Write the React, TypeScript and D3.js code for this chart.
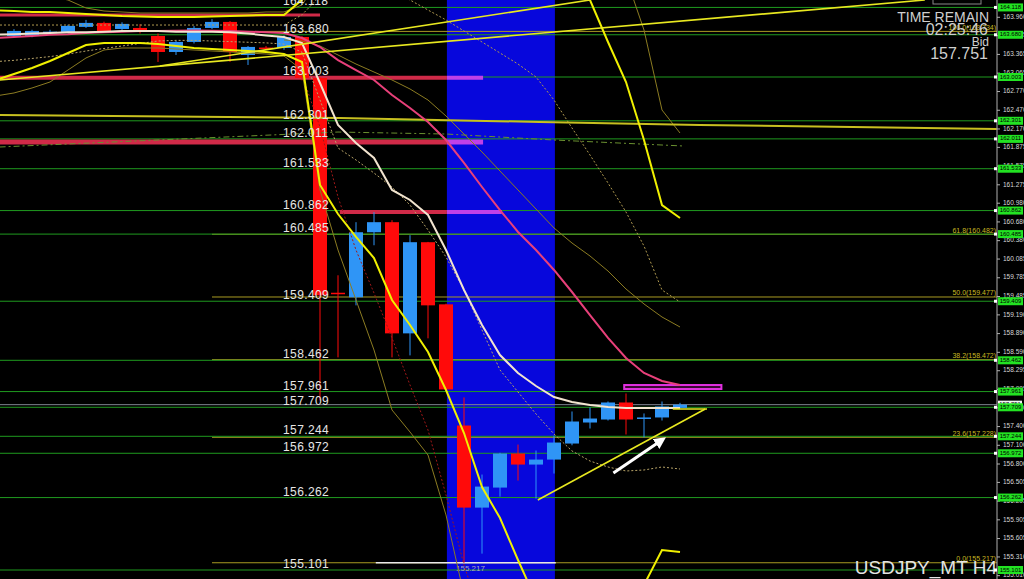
import * as d3 from "d3";

// ---- candle data (H4, USDJPY) ----
const candleOpen = [163.661, 163.661, 163.72, 163.725, 163.806, 163.87, 163.773, 163.789, 163.661, 163.404, 163.565, 163.789, 163.886, 163.356, 163.475, 163.468, 163.645, 162.987, 159.545, 159.472, 160.515, 160.676, 158.894, 160.355, 159.359, 157.417, 156.101, 156.422, 156.968, 156.791, 156.871, 157.128, 157.465, 157.513, 157.786, 157.529, 157.546, 157.70];
const candleHigh = [163.77, 163.76, 163.76, 163.84, 163.918, 163.89, 163.88, 163.85, 163.70, 163.58, 163.82, 163.93, 163.90, 163.50, 163.50, 163.67, 163.66, 163.00, 159.825, 160.676, 160.836, 160.708, 160.467, 160.36, 159.37, 157.867, 156.631, 156.98, 157.112, 157.016, 157.256, 157.642, 157.706, 157.802, 157.931, 157.61, 157.802, 157.78];
const candleLow = [163.64, 163.64, 163.69, 163.70, 163.79, 163.72, 163.75, 163.70, 163.244, 163.356, 163.54, 163.77, 163.244, 163.196, 163.44, 163.44, 162.95, 157.818, 158.509, 159.343, 160.306, 158.509, 158.541, 158.814, 157.99, 155.217, 155.363, 156.277, 156.534, 156.245, 156.647, 157.10, 157.369, 157.497, 157.273, 157.225, 157.497, 157.69];
const candleClose = [163.741, 163.741, 163.73, 163.822, 163.87, 163.741, 163.854, 163.725, 163.404, 163.565, 163.789, 163.886, 163.404, 163.485, 163.468, 163.645, 162.987, 159.504, 159.536, 160.515, 160.676, 158.894, 160.355, 159.343, 157.995, 156.101, 156.438, 156.968, 156.791, 156.871, 157.144, 157.481, 157.529, 157.786, 157.513, 157.546, 157.722, 157.751];

// ---- indicators (first value sits one bar left of the first candle) ----
const bandStart = -1;
const bbUpper = [164.07, 164.061, 164.045, 164.045, 164.029, 164.013, 163.997, 163.981, 163.973, 163.965, 163.965, 163.965, 163.973, 163.981, 163.989, 163.997, 163.997, 164.24, 164.9, 165.3, 165.6, 165.8, 165.9, 166.0, 166.0, 165.9, 165.7, 165.5, 165.3, 165.1, 164.9, 164.7, 164.5, 164.237, 163.564, 162.923, 161.993, 160.951, 160.743];
const bbLower = [162.955, 163.051, 163.147, 163.259, 163.388, 163.516, 163.548, 163.548, 163.548, 163.532, 163.5, 163.468, 163.452, 163.436, 163.42, 163.404, 163.372, 163.243, 161.272, 160.807, 160.439, 160.102, 159.429, 159.028, 158.595, 157.986, 157.297, 156.431, 155.934, 155.261, 154.62, 154.2, 153.9, 153.8, 153.8, 153.98, 154.861, 155.422, 155.39];
const maWhite = [163.68, 163.69, 163.7, 163.71, 163.72, 163.72, 163.73, 163.74, 163.74, 163.74, 163.73, 163.73, 163.73, 163.72, 163.7, 163.67, 163.644, 163.548, 162.907, 162.234, 161.945, 161.705, 161.192, 161.032, 160.791, 160.23, 159.589, 159.028, 158.547, 158.259, 158.05, 157.874, 157.794, 157.746, 157.714, 157.698, 157.698, 157.698, 157.698];
const maPink = [163.63, 163.644, 163.66, 163.68, 163.69, 163.708, 163.72, 163.73, 163.74, 163.74, 163.745, 163.75, 163.745, 163.74, 163.73, 163.72, 163.708, 163.628, 163.484, 163.275, 163.115, 162.955, 162.714, 162.506, 162.282, 161.993, 161.625, 161.24, 160.871, 160.519, 160.23, 159.91, 159.557, 159.188, 158.82, 158.499, 158.259, 158.131, 158.067];
const oliveLower = [162.7, 162.747, 162.827, 162.923, 163.115, 163.308, 163.436, 163.468, 163.468, 163.468, 163.452, 163.436, 163.42, 163.404, 163.388, 163.372, 163.34, 163.115, 161.192, 160.23, 159.429, 158.627, 157.666, 157.313, 156.944, 155.983, 154.701];
const oliveUpper = [164.55, 164.5, 164.4, 164.3, 164.237, 164.109, 164.061, 164.045, 164.029, 164.029, 164.029, 164.029, 164.029, 164.029, 164.029, 164.045, 164.045, 164.157, 164.6, 164.6, 164.6, 164.6, 164.6, 164.6, 164.6, 164.6, 164.6, 164.6, 164.6, 164.6, 164.6, 164.6, 164.6, 164.6, 164.6, 164.6, 163.756, 162.474, 162.105];
const dotUpper = [163.836, 163.836, 163.836, 163.836, 163.836, 163.836, 163.836, 163.836, 163.836, 163.836, 163.836, 163.836, 163.836, 163.836, 163.836, 163.836, 163.836, 164.0, 164.3, 164.5, 164.6, 164.5, 164.4, 164.237, 164.077, 163.917, 163.74, 163.564, 163.388, 163.211, 163.003, 162.634, 162.186, 161.753, 161.304, 160.839, 160.294, 159.589, 159.397];
const dotMid = [163.25, 163.27, 163.3, 163.33, 163.37, 163.42, 163.46, 163.5, 163.54, 163.58, 163.59, 163.59, 163.58, 163.57, 163.56, 163.55, 163.53, 163.4, 162.634, 161.865, 161.673, 161.464, 161.24, 160.951, 160.551, 160.118, 159.589, 158.948, 158.307, 157.954, 157.602, 157.281, 157.009, 156.848, 156.752, 156.688, 156.704, 156.752, 156.72];
const oliveMidStart = 15;
const oliveMid = [163.596, 163.58, 163.5, 163.356, 163.211, 163.083, 162.955, 162.811, 162.634, 162.378, 162.089, 161.801, 161.496, 161.192, 160.887, 160.583, 160.342, 160.134, 159.893, 159.605, 159.365, 159.156, 158.996];
const dotRedStart = 16;
const dotRed = [163.035, 162.202, 161.08, 160.23, 159.541, 158.82, 158.067, 157.345, 156.303, 155.181, 154.3];

// free polylines (bar index, price)
const dashDotIdx = [-0.8, 18, 24, 30, 37.2];
const dashDotP = [161.881, 162.121, 162.089, 161.993, 161.897];
const flatYellowIdx = [-0.8, 18.1, 29.2, 38.1, 54.6];
const flatYellowP = [162.394, 162.346, 162.282, 162.234, 162.17];
const trendFrom = [[-0.8, 162.955], [8.1, 163.179], [29.1, 156.223], [36.6, 157.682]];
const trendTo = [[50.6, 164.237], [32, 164.237], [38.4, 157.682], [38.5, 157.682]];
const arrowFrom = [33.3, 156.656];
const arrowTo = [36.0, 157.185];

// levels
const levels = [164.118, 163.68, 163.003, 162.301, 162.011, 161.533, 160.862, 160.485, 159.409, 158.462, 157.961, 157.709, 157.244, 156.972, 156.262, 155.101];
const zoneP = [163.997, 162.99, 161.961, 160.839];
const zoneFrom = [-0.8, -0.8, -0.8, 18.1];
const zoneTo = [17.0, 26.06, 26.06, 27.1];
const zoneWidth = [3, 4, 5, 4];
const boxP = [158.066, 158.002];
const boxIdx = [33.9, 39.3];
const fibP = [163.734, 160.482, 159.477, 158.472, 157.228, 155.217];
const fibLabels = ["100.0(163.734)", "61.8(160.482)", "50.0(159.477)", "38.2(158.472)", "23.6(157.228)", "0.0(155.217)"];
const fibStart = 11;
const sessionIdx = [24.05, 30.05];
const lowLine = { p: 155.217, i0: 20.1, i1: 30.1, label: "155.217" };
const bid = 157.751;
const axisLabels = ["163.960", "163.665", "163.365", "163.065", "162.770", "162.470", "162.170", "161.875", "161.575", "161.275", "160.980", "160.680", "160.380", "160.085", "159.785", "159.485", "159.190", "158.890", "158.590", "158.295", "157.995", "157.700", "157.400", "157.100", "156.800", "156.505", "156.205", "155.905", "155.605", "155.310", "155.010"];

const W = 1024;
const H = 579;
const AX = 997;
const BULL = "#2f95f6";
const BEAR = "#ff0a0a";
const FONT = "'Liberation Sans', Arial, sans-serif";

const x = d3.scaleLinear().domain([0, 37]).range([14, 680]);
const y = d3.scaleLinear().domain([155.101, 163.003]).range([570, 77]);

function seriesPath(vals: number[], start = 0) {
  return d3.line<number>().x((_, i) => x(i + start)).y((d) => y(d))(vals) || "";
}
function freePath(idx: number[], p: number[]) {
  return d3.line<number>().x((d) => x(d)).y((_, i) => y(p[i]))(idx) || "";
}

export default function App() {
  const bx0 = x(sessionIdx[0]);
  const bx1 = x(sessionIdx[1]);
  return (
    <div>
      <style>{"body{margin:0;background:#000}"}</style>
      <svg width={W} height={H} style={{ display: "block", background: "#000" }} fontFamily={FONT}>
        <defs>
          <clipPath id="plot">
            <rect x={0} y={0} width={AX} height={H} />
          </clipPath>
          <marker id="arr" viewBox="0 0 10 10" refX="6" refY="5" markerWidth="4" markerHeight="4" orient="auto">
            <path d="M0,0 L10,5 L0,10 z" fill="#fff" />
          </marker>
        </defs>
        <rect width={W} height={H} fill="#000" />
        <g clipPath="url(#plot)">
          {/* session box */}
          <rect x={bx0} y={0} width={bx1 - bx0} height={H} fill="#0707dc" />

          {/* fib lines */}
          {fibP.map((p, i) => (
            <line key={"f" + i} x1={x(fibStart)} x2={AX} y1={y(p)} y2={y(p)} stroke="#a89a22" strokeWidth={1} />
          ))}
          {/* support / resistance levels */}
          {levels.map((p, i) => (
            <line key={"l" + i} x1={0} x2={AX} y1={y(p)} y2={y(p)} stroke="#1f9a1f" strokeWidth={1} />
          ))}
          <line x1={0} x2={AX} y1={y(bid)} y2={y(bid)} stroke="#7f8590" strokeWidth={1} />

          {/* zone bars */}
          {zoneP.map((p, i) => {
            const a = x(zoneFrom[i]);
            const b = x(zoneTo[i]);
            return (
              <g key={"z" + i}>
                <line x1={a} x2={Math.min(b, bx0)} y1={y(p)} y2={y(p)} stroke="#d02a48" strokeWidth={zoneWidth[i]} />
                {b > bx0 && <line x1={Math.max(a, bx0)} x2={b} y1={y(p)} y2={y(p)} stroke="#c040e8" strokeWidth={zoneWidth[i]} />}
              </g>
            );
          })}
          <rect x={x(boxIdx[0])} y={y(boxP[0])} width={x(boxIdx[1]) - x(boxIdx[0])} height={y(boxP[1]) - y(boxP[0])} fill="#3a0a30" stroke="#e030e0" strokeWidth={2} />

          {/* low marker */}
          <line x1={x(lowLine.i0)} x2={x(lowLine.i1)} y1={y(lowLine.p)} y2={y(lowLine.p)} stroke="#e8e8e8" strokeWidth={1.5} />
          <text x={x(25) - 8} y={y(lowLine.p) + 8} fontSize={8} fill="#a8a8c0">{lowLine.label}</text>

          {/* candles */}
          {candleOpen.map((o, i) => {
            const c = candleClose[i];
            const col = c >= o ? BULL : BEAR;
            const top = y(Math.max(o, c));
            const h = Math.max(1.5, y(Math.min(o, c)) - top);
            return (
              <g key={"c" + i}>
                <line x1={x(i)} x2={x(i)} y1={y(candleHigh[i])} y2={y(candleLow[i])} stroke={col} strokeWidth={1} />
                <rect x={x(i) - 7} y={top} width={14} height={h} fill={col} />
              </g>
            );
          })}

          {/* slow/dotted bands */}
          <path d={seriesPath(dotUpper, bandStart)} fill="none" stroke="#b09a50" strokeWidth={1} strokeDasharray="2,2" />
          <path d={seriesPath(dotMid, bandStart)} fill="none" stroke="#b8a468" strokeWidth={1} strokeDasharray="2,2" />
          <path d={seriesPath(dotRed, dotRedStart)} fill="none" stroke="#a01818" strokeWidth={1} strokeDasharray="2,2" />
          <path d={seriesPath(oliveUpper, bandStart)} fill="none" stroke="#8c7c22" strokeWidth={1} />
          <path d={seriesPath(oliveLower, bandStart)} fill="none" stroke="#8c7c22" strokeWidth={1} />
          <path d={seriesPath(oliveMid, oliveMidStart)} fill="none" stroke="#8c7c22" strokeWidth={1} />
          <path d={freePath(dashDotIdx, dashDotP)} fill="none" stroke="#6a9030" strokeWidth={1} strokeDasharray="6,3,2,3" />
          <path d={freePath(flatYellowIdx, flatYellowP)} fill="none" stroke="#c8c020" strokeWidth={2} />

          {/* moving averages */}
          <path d={seriesPath(maPink, bandStart)} fill="none" stroke="#e8407a" strokeWidth={2} />
          <path d={seriesPath(maWhite, bandStart)} fill="none" stroke="#f2e4cf" strokeWidth={2} />
          <path d={seriesPath(bbUpper, bandStart)} fill="none" stroke="#f0f000" strokeWidth={2} />
          <path d={seriesPath(bbLower, bandStart)} fill="none" stroke="#f0f000" strokeWidth={2} />

          {/* trend lines */}
          {trendFrom.map((a, i) => (
            <line key={"t" + i} x1={x(a[0])} y1={y(a[1])} x2={x(trendTo[i][0])} y2={y(trendTo[i][1])} stroke="#e8e820" strokeWidth={1.6} />
          ))}
          <line x1={x(arrowFrom[0])} y1={y(arrowFrom[1])} x2={x(arrowTo[0])} y2={y(arrowTo[1])} stroke="#fff" strokeWidth={3} markerEnd="url(#arr)" />

          {/* left-side level labels */}
          {levels.map((p, i) => (
            <text key={"lt" + i} x={283} y={y(p) - 2} fontSize={12} fill="#e6e6e6" letterSpacing={0.4}>
              {p.toFixed(3)}
            </text>
          ))}

          {/* fib labels */}
          {fibP.map((p, i) => (
            <text key={"ft" + i} x={AX - 1} y={y(p) - 1.5} fontSize={7} fill="#c8b820" textAnchor="end">
              {fibLabels[i]}
            </text>
          ))}
        </g>

        {/* info text */}
        <rect x={933} y={-6} width={48} height={10} fill="#000" stroke="#8a8a8a" />
        <g fill="#cfcfcf" textAnchor="end">
          <text x={989} y={22} fontSize={14}>TIME REMAIN</text>
          <text x={988} y={35} fontSize={16}>02:25:46</text>
          <text x={989} y={46} fontSize={12}>Bid</text>
          <text x={988} y={59} fontSize={16}>157.751</text>
          <text x={997} y={574} fontSize={19} fill="#e4e4e4">USDJPY_MT H4</text>
        </g>

        {/* price axis */}
        <line x1={AX} x2={AX} y1={0} y2={H} stroke="#b0b0b0" strokeWidth={1} />
        {axisLabels.map((t) => (
          <g key={"a" + t}>
            <line x1={AX} x2={AX + 3} y1={y(+t)} y2={y(+t)} stroke="#b0b0b0" />
            <text x={1003} y={y(+t)} fontSize={6.5} fill="#d8d8d8" dominantBaseline="middle">{t}</text>
          </g>
        ))}
        <rect x={998} y={y(bid) - 4} width={24} height={8} fill="#f4f4f4" />
        <text x={1010} y={y(bid)} fontSize={6} fill="#000" textAnchor="middle" dominantBaseline="middle">{bid.toFixed(3)}</text>
        {levels.map((p, i) => (
          <g key={"b" + i}>
            <rect x={994} y={y(p) - 1.5} width={3} height={3} fill="#fff" />
            <rect x={998} y={y(p) - 4} width={25} height={8} fill="#22e222" />
            <text x={1010.5} y={y(p)} fontSize={6} fill="#000" textAnchor="middle" dominantBaseline="middle">{p.toFixed(3)}</text>
          </g>
        ))}
      </svg>
    </div>
  );
}
